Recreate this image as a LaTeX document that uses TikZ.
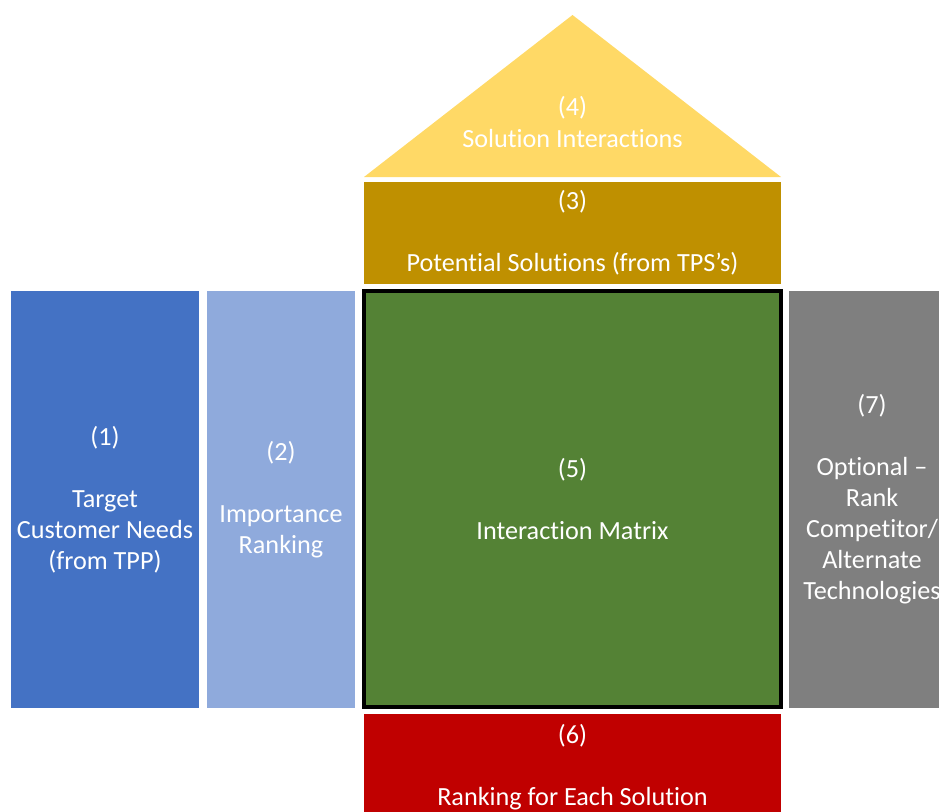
\documentclass[tikz,border=0pt]{standalone}
\usepackage{fontspec}
\setmainfont[Ligatures=NoCommon]{Carlito}

\definecolor{needblue}{HTML}{4472C4}
\definecolor{rankblue}{HTML}{8FAADC}
\definecolor{matgreen}{HTML}{548235}
\definecolor{solgold}{HTML}{BF9000}
\definecolor{roofyellow}{HTML}{FFD966}
\definecolor{solred}{HTML}{C00000}
\definecolor{altgray}{HTML}{7F7F7F}

\begin{document}
\begin{tikzpicture}[x=1pt,y=-1pt,
    box/.style={fill=#1, text=white, align=center, inner sep=0pt,
      font=\fontsize{26.2}{31}\selectfont},
    label/.style={text=white, align=center, inner sep=0pt,
      font=\fontsize{26.2}{31.5}\selectfont}]
  \useasboundingbox (0,0) rectangle (939,811);
    % roof
    \fill[roofyellow] (364,177) -- (572.5,15) -- (781,177) -- cycle;
    \node[label] (roof) at (572.5,122) {(4)\\Solution Interactions};
    % solutions row
    \node[box=solgold, minimum width=417pt, minimum height=102pt] (sol) at (572.5,233) {(3)\\[31pt]Potential Solutions (from TPS’s)};
    % left columns
    \node[box=needblue, minimum width=188pt, minimum height=417pt] (needs) at (105,499.5) {(1)\\[31pt]Target\\Customer Needs\\(from TPP)};
    \node[box=rankblue, minimum width=148pt, minimum height=417pt] (imp) at (281,499.5) {(2)\\[31pt]Importance\\Ranking};
    % matrix
    \node[box=matgreen, draw=black, line width=4pt, minimum width=417pt, minimum height=416pt] (matrix) at (572.5,499) {(5)\\[31pt]Interaction Matrix};
    % right column
    \node[box=altgray, minimum width=166pt, minimum height=417pt] (alt) at (872,499.5) {(7)\\[31pt]Optional –\\Rank\\Competitor/\\Alternate\\Technologies};
    % bottom row
    \node[box=solred, minimum width=417pt, minimum height=106pt] (score) at (572.5,767) {(6)\\[31pt]Ranking for Each Solution};
\end{tikzpicture}
\end{document}
